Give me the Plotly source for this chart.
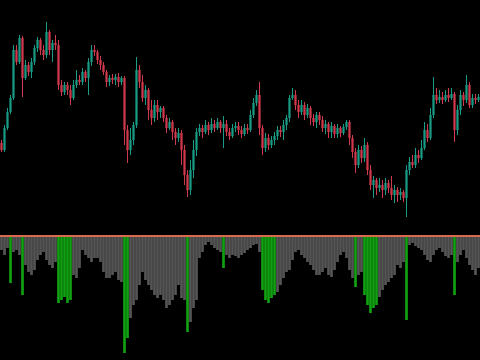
import plotly.graph_objects as go

# ---- price candles (arbitrary price units) ----
open_ = [97, 90, 112, 128, 142, 190, 178, 202, 162, 175, 168, 178, 192, 200, 190, 185, 208, 190, 197, 195,
         155, 148, 155, 150, 142, 155, 160, 158, 168, 162, 178, 190, 188, 180, 175, 168, 158, 162, 160, 163,
         158, 162, 110, 90, 100, 115, 170, 158, 142, 150, 130, 122, 135, 128, 132, 122, 112, 118, 108, 102,
         107, 90, 65, 50, 70, 90, 108, 112, 108, 115, 110, 116, 112, 118, 112, 116, 108, 104, 112, 114,
         110, 106, 112, 110, 125, 137, 145, 112, 92, 102, 95, 100, 104, 110, 108, 115, 122, 142, 145, 135,
         128, 135, 125, 132, 122, 118, 125, 120, 112, 116, 108, 114, 106, 112, 107, 113, 118, 102, 88, 75,
         90, 82, 95, 70, 55, 60, 52, 55, 50, 57, 52, 45, 50, 45, 48, 42, 70, 78, 75, 85,
         82, 92, 110, 102, 125, 145, 140, 143, 140, 145, 142, 146, 110, 130, 145, 140, 155, 135, 142, 140]
high = [100, 115, 132, 145, 195, 195, 205, 204, 180, 178, 182, 195, 203, 202, 195, 218, 210, 200, 205, 200,
        160, 158, 158, 155, 160, 170, 165, 172, 170, 182, 195, 195, 190, 184, 178, 170, 165, 166, 166, 167,
        164, 164, 115, 112, 118, 183, 175, 165, 155, 152, 140, 140, 140, 134, 134, 125, 122, 120, 112, 112,
        110, 95, 70, 80, 100, 112, 116, 115, 120, 118, 122, 120, 122, 120, 124, 120, 112, 116, 118, 118,
        114, 116, 116, 130, 142, 150, 158, 115, 107, 106, 104, 108, 114, 114, 120, 125, 145, 152, 150, 140,
        140, 138, 136, 134, 126, 128, 128, 124, 120, 118, 118, 116, 116, 114, 116, 120, 120, 105, 92, 95,
        94, 102, 98, 75, 64, 62, 62, 60, 62, 60, 64, 55, 53, 52, 50, 75, 83, 85, 92, 90,
        100, 118, 116, 132, 163, 152, 150, 148, 150, 152, 152, 148, 135, 150, 148, 165, 158, 146, 146, 146]
low = [88, 88, 110, 126, 140, 175, 176, 143, 160, 164, 162, 175, 188, 185, 180, 182, 185, 178, 190, 150,
       144, 145, 145, 135, 140, 152, 155, 155, 158, 145, 174, 184, 176, 170, 165, 153, 154, 156, 155, 153,
       155, 95, 77, 85, 95, 112, 152, 138, 135, 120, 115, 118, 120, 122, 118, 107, 110, 100, 95, 98,
       75, 55, 43, 45, 62, 84, 104, 102, 106, 105, 107, 108, 110, 107, 92, 104, 100, 102, 108, 105,
       102, 104, 106, 108, 122, 134, 105, 85, 88, 90, 92, 95, 100, 103, 100, 110, 118, 140, 130, 122,
       125, 120, 122, 115, 114, 112, 115, 108, 106, 102, 102, 102, 102, 103, 105, 110, 95, 82, 67, 72,
       77, 78, 65, 50, 42, 45, 48, 42, 45, 47, 40, 37, 38, 40, 38, 23, 65, 72, 72, 77,
       80, 90, 98, 100, 122, 136, 137, 136, 138, 138, 140, 98, 105, 125, 134, 137, 132, 132, 136, 138]
close = [90, 112, 128, 142, 190, 178, 202, 162, 175, 168, 178, 192, 200, 190, 185, 208, 190, 197, 195, 155,
         148, 155, 150, 142, 155, 160, 158, 168, 162, 178, 190, 188, 180, 175, 168, 158, 162, 160, 163, 158,
         162, 110, 90, 100, 115, 170, 158, 142, 150, 130, 122, 135, 128, 132, 122, 112, 118, 108, 102, 107,
         90, 65, 50, 70, 90, 108, 112, 108, 115, 110, 116, 112, 118, 112, 116, 108, 104, 112, 114, 110,
         106, 112, 110, 125, 137, 145, 112, 92, 102, 95, 100, 104, 110, 108, 115, 122, 142, 145, 135, 128,
         135, 125, 132, 122, 118, 125, 120, 112, 116, 108, 114, 106, 112, 107, 113, 118, 102, 88, 75, 90,
         82, 95, 70, 55, 60, 52, 55, 50, 57, 52, 45, 50, 45, 48, 42, 70, 78, 75, 85, 82,
         92, 110, 102, 125, 145, 140, 143, 140, 145, 142, 146, 110, 130, 145, 140, 155, 135, 142, 140, 143]

# ---- oscillator histogram (hangs below zero) ----
osc = [-14, -19, -12, -47, -16, -14, -19, -59, -29, -36, -39, -34, -24, -19, -16, -24, -29, -32, -26, -67,
       -64, -61, -67, -64, -39, -42, -32, -14, -19, -22, -26, -22, -22, -26, -36, -42, -42, -39, -36, -44,
       -46, -117, -102, -82, -69, -64, -49, -36, -44, -49, -54, -59, -62, -59, -64, -72, -69, -64, -59, -49,
       -62, -64, -96, -86, -72, -64, -22, -16, -9, -6, -9, -12, -14, -16, -32, -19, -22, -19, -20, -22,
       -19, -17, -14, -12, -9, -8, -16, -54, -64, -67, -62, -59, -56, -49, -42, -36, -34, -24, -16, -14,
       -19, -22, -26, -29, -34, -39, -39, -36, -32, -39, -41, -34, -26, -19, -16, -22, -34, -42, -51, -39,
       -36, -59, -69, -77, -72, -69, -61, -54, -49, -46, -42, -39, -29, -32, -26, -84, -9, -7, -10, -12,
       -14, -19, -24, -26, -19, -14, -12, -16, -20, -22, -19, -59, -26, -19, -14, -22, -29, -34, -39, -32]
green_idx = [3, 7, 19, 20, 21, 22, 23, 41, 42, 62, 74, 87, 88, 89, 90, 91, 118, 121, 122, 123, 124, 125, 135, 151]

idx = list(range(len(close)))
bar_colors = ["#11a011" if i in green_idx else "#555555" for i in idx]

fig = go.Figure()
fig.add_trace(go.Candlestick(
    x=idx, open=open_, high=high, low=low, close=close,
    increasing=dict(line=dict(color="#1a9c86", width=1), fillcolor="#1a9c86"),
    decreasing=dict(line=dict(color="#d13a4c", width=1), fillcolor="#d13a4c"),
    whiskerwidth=0, showlegend=False, hoverinfo="skip",
    xaxis="x", yaxis="y",
))
fig.add_trace(go.Bar(
    x=idx, y=osc, marker=dict(color=bar_colors, line=dict(width=0)),
    showlegend=False, hoverinfo="skip", xaxis="x", yaxis="y2",
))

fig.add_shape(type="line", xref="paper", yref="y2", x0=0, x1=1, y0=0, y1=0,
              line=dict(color="#d86a4e", width=2), layer="above")

fig.update_layout(
    width=480, height=360,
    margin=dict(l=0, r=0, t=0, b=0),
    paper_bgcolor="#000000", plot_bgcolor="#000000",
    bargap=0.1,
    boxgap=0.45,
    showlegend=False,
    xaxis=dict(range=[-0.5, len(close) - 0.5], visible=False, showgrid=False,
               rangeslider=dict(visible=False), fixedrange=True),
    yaxis=dict(domain=[1 - 230 / 360, 1], range=[10, 240], visible=False, showgrid=False),
    yaxis2=dict(domain=[0, 128 / 360], range=[-124, 4], visible=False, showgrid=False),
)

fig.write_html("out.html")
